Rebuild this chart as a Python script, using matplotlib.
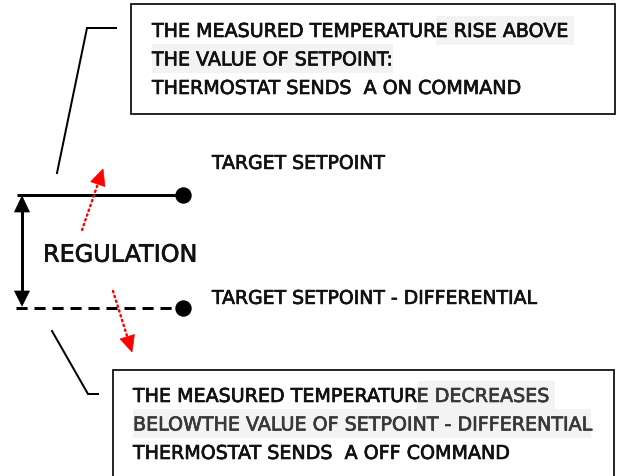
import matplotlib
matplotlib.use("Agg")
import matplotlib.pyplot as plt
from matplotlib.patches import Rectangle, Polygon
import matplotlib.patheffects as pe
import numpy as np

# ---- content ----
top_lines = [
    [("THE MEASURED TEMPERATUR", False), ("E RISE ABOVE ", True)],
    [("THE VALUE OF SETPOINT:", True)],
    [("THERMOSTAT SENDS  A ON COMMAND", False)],
]
bottom_lines = [
    [("THE MEASURED TEMPERATUR", False), ("E DECREASES ", True)],
    [("BELOWTHE VALUE OF SETPOINT - DIFFERENTIAL", True)],
    [("THERMOSTAT SENDS  A OFF COMMAND", False)],
]
setpoint_labels = ["TARGET SETPOINT", "TARGET SETPOINT - DIFFERENTIAL"]
regulation_label = "REGULATION"

FONT = "DejaVu Sans"
HL = "#f3f3f3"
CAP = 0.729  # cap height / em for DejaVu Sans

fig = plt.figure(figsize=(6.21, 4.77), dpi=100)
ax = fig.add_axes([0, 0, 1, 1])
ax.set_xlim(0, 621)
ax.set_ylim(477, 0)
ax.axis("off")
renderer = fig.canvas.get_renderer()


def px(v):
    return v * 72 / 100.0


def heavy(col, w=0.7):
    return [pe.withStroke(linewidth=px(w), foreground=col)]


def width_of(s, fs):
    t = ax.text(0, 0, s, fontsize=fs, family=FONT)
    w = t.get_window_extent(renderer).width
    t.remove()
    return w


def fit_size(s, target_w):
    return 10 * target_w / width_of(s, 10)


def draw_line(x, yc, segs, fs, hl_color, hl_text_color, row_h=29, extra=0):
    cap_px = CAP * fs * 100 / 72
    base = yc + cap_px / 2
    cur = x
    for s, hl in segs:
        col = hl_text_color if hl else "#111111"
        t = ax.text(cur, base, s, fontsize=fs, family=FONT, color=col,
                    va="baseline", ha="left", zorder=3,
                    path_effects=heavy(col))
        w = t.get_window_extent(renderer).width
        if hl:
            ax.add_patch(Rectangle((cur, yc - row_h / 2), w + extra, row_h,
                                   facecolor=hl_color, edgecolor="none", zorder=1))
        cur += w


# font sizes
fs_box = fit_size("BELOWTHE VALUE OF SETPOINT - DIFFERENTIAL", 458)
fs_lab = fit_size(setpoint_labels[1], 324)
fs_reg = fit_size(regulation_label, 154)

# ---- top box ----
ax.add_patch(Rectangle((131, 5), 484, 110, facecolor="white",
                       edgecolor="#111111", lw=px(1.8), zorder=0))
for i, segs in enumerate(top_lines):
    draw_line(152, 31 + i * 28.5, segs, fs_box, HL, "#111111")

# ---- bottom box ----
ax.add_patch(Rectangle((113, 371), 501, 200, facecolor="white",
                       edgecolor="#111111", lw=px(1.8), zorder=0))
for i, segs in enumerate(bottom_lines):
    draw_line(133, 396 + i * 28.5, segs, fs_box, HL, "#383838")

# ---- leader lines ----
ax.plot([57, 87, 116], [174, 29, 29], color="black", lw=px(2),
        solid_joinstyle="miter", zorder=2)
ax.plot([52, 88, 98], [332, 395, 395], color="black", lw=px(2),
        solid_joinstyle="miter", zorder=2)

# ---- setpoint lines ----
ax.plot([17, 183], [196, 196], color="black", lw=px(3), solid_capstyle="butt", zorder=2)
ax.plot([183], [196], "o", color="black", ms=px(15), zorder=3)
ax.plot([16, 183], [309, 309], color="black", lw=px(3), dashes=(3.7, 2.3),
        dash_capstyle="butt", zorder=2)
ax.plot([183], [309], "o", color="black", ms=px(15), zorder=3)

# ---- vertical double arrow ----
xv = 22
ax.plot([xv, xv], [210, 295], color="black", lw=px(3), zorder=2)
ax.add_patch(Polygon([[xv, 197], [xv - 7.5, 213], [xv + 7.5, 213]], closed=True,
                     facecolor="black", edgecolor="black", lw=0.5, zorder=3))
ax.add_patch(Polygon([[xv, 307], [xv - 7.5, 292], [xv + 7.5, 292]], closed=True,
                     facecolor="black", edgecolor="black", lw=0.5, zorder=3))


# ---- red dotted arrows ----
def red_arrow(p0, tip, head_len=16, head_w=15):
    p0 = np.array(p0, float)
    tip = np.array(tip, float)
    d = tip - p0
    L = np.hypot(*d)
    u = d / L
    n = np.array([-u[1], u[0]])
    base = tip - u * head_len
    ax.plot([p0[0], base[0]], [p0[1], base[1]], color="red", lw=px(2.4),
            dashes=(0.6, 1.5), dash_capstyle="round", zorder=4)
    ax.add_patch(Polygon([tip, base + n * head_w / 2, base - n * head_w / 2],
                         closed=True, facecolor="red", edgecolor="red",
                         lw=0.5, zorder=4))


red_arrow((82, 231), (103, 170))
red_arrow((113, 292), (132, 353))

# ---- labels ----
def label(x, yc, s, fs):
    cap_px = CAP * fs * 100 / 72
    ax.text(x, yc + cap_px / 2, s, fontsize=fs, family=FONT, color="#111111",
            va="baseline", ha="left", zorder=3, path_effects=heavy("#111111"))


label(212, 163, setpoint_labels[0], fs_lab)
label(212, 298, setpoint_labels[1], fs_lab)
label(43, 254, regulation_label, fs_reg)

fig.savefig("out.png", dpi=100, facecolor="white")
